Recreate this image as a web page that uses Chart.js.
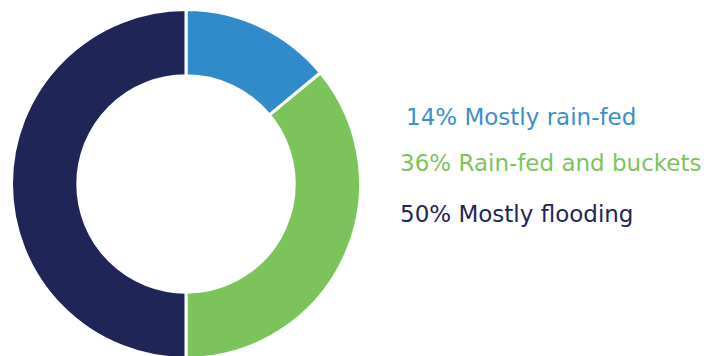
<!DOCTYPE html>
<html>
<head>
<meta charset="utf-8">
<script src="https://cdn.jsdelivr.net/npm/chart.js@4.4.1/dist/chart.umd.min.js"></script>
<style>
    html, body { margin: 0; padding: 0; background: #fff; overflow: hidden; }
    #wrap { position: relative; width: 709px; height: 356px; }
    #donut { position: absolute; left: 10px; top: 8px; }
    .label {
        position: absolute;
        font-family: 'DejaVu Sans', sans-serif;
        font-size: 23px;
        white-space: nowrap;
        line-height: 1;
    }
</style>
</head>
<body>
<div id="wrap">
    <canvas id="donut" width="352" height="352"></canvas>
    <div id="labels"></div>
</div>
<script>
const categories = ['Mostly rain-fed', 'Rain-fed and buckets', 'Mostly flooding'];
const shares = [14, 36, 50];
const colours = ['#318bca', '#7dc35b', '#1f2557'];
const textColours = ['#3a8fcf', '#7dc35b', '#1f2557'];

// legend text beside the ring
const labelPos = [[406, 106], [400, 152], [400, 203]];
const labelsEl = document.getElementById('labels');
categories.forEach(function (name, i) {
    const div = document.createElement('div');
    div.className = 'label';
    div.textContent = shares[i] + '% ' + name;
    div.style.color = textColours[i];
    div.style.left = labelPos[i][0] + 'px';
    div.style.top = labelPos[i][1] + 'px';
    labelsEl.appendChild(div);
});

const ctx = document.getElementById('donut').getContext('2d');
new Chart(ctx, {
    type: 'doughnut',
    data: {
        labels: categories,
        datasets: [{
            data: shares,
            backgroundColor: colours,
            borderColor: '#ffffff',
            borderWidth: 3
        }]
    },
    options: {
        responsive: false,
        animation: false,
        cutout: '62%',
        layout: { padding: 0 },
        plugins: {
            legend: { display: false },
            tooltip: { enabled: false }
        }
    }
});
</script>
</body>
</html>
